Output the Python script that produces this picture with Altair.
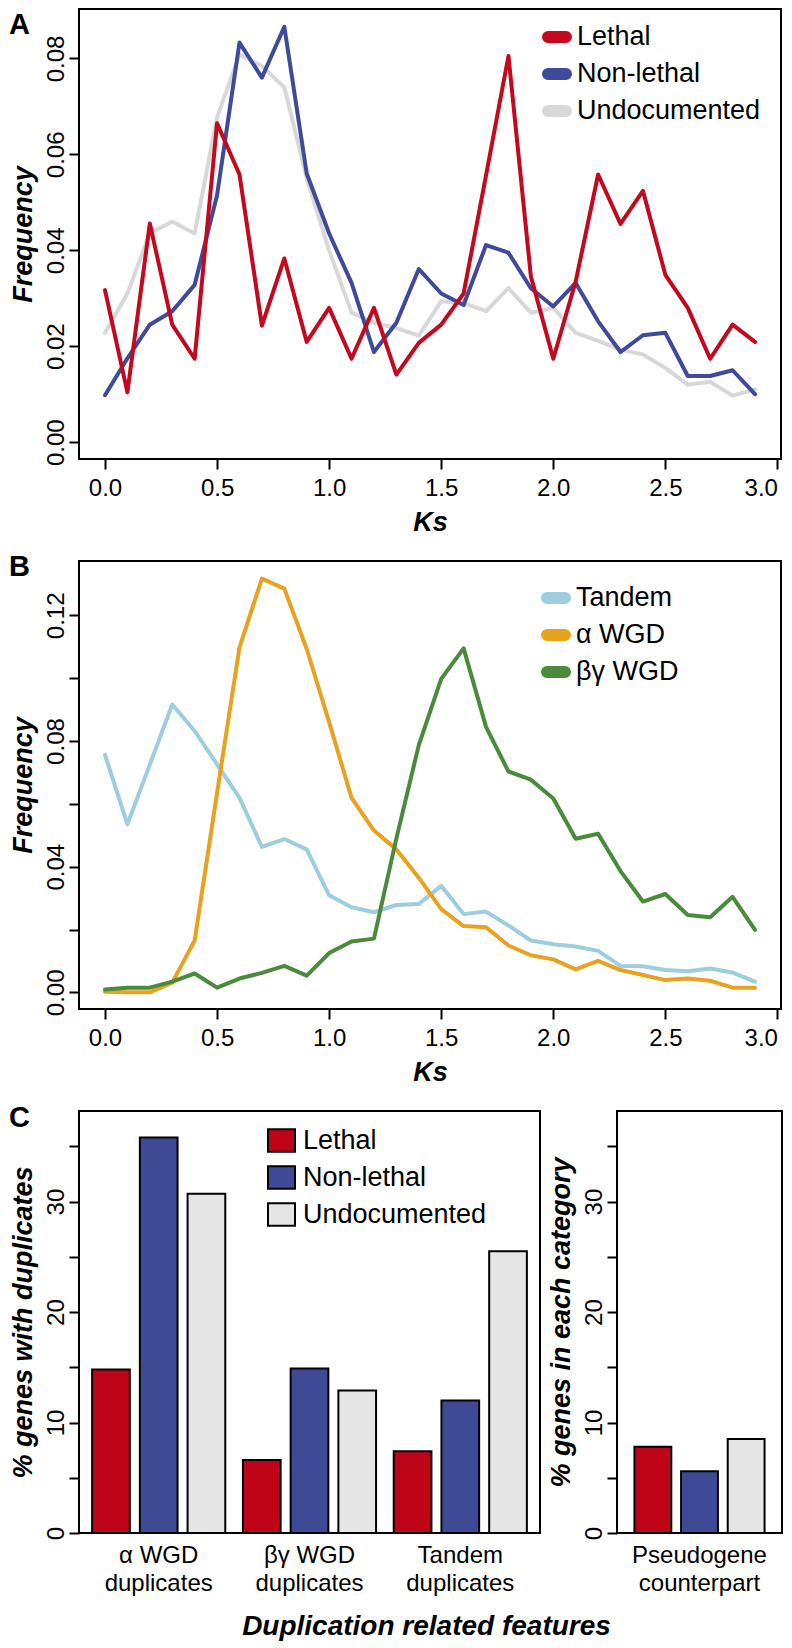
import altair as alt
import pandas as pd

# ---------------- data ----------------
ks = [0.0, 0.1, 0.2, 0.3, 0.4, 0.5, 0.6, 0.7, 0.8, 0.9,
      1.0, 1.1, 1.2, 1.3, 1.4, 1.5, 1.6, 1.7, 1.8, 1.9,
      2.0, 2.1, 2.2, 2.3, 2.4, 2.5, 2.6, 2.7, 2.8, 2.9]
ks_ticks = [0.0, 0.5, 1.0, 1.5, 2.0, 2.5, 3.0]

# Panel A
status_a = ["Lethal", "Non-lethal", "Undocumented"]
lethal = [0.0317, 0.0104, 0.0456, 0.0245, 0.0174, 0.0665, 0.0558, 0.0243, 0.0383, 0.0209,
          0.0280, 0.0174, 0.0280, 0.0141, 0.0207, 0.0245, 0.0310, 0.0556, 0.0805, 0.0346,
          0.0174, 0.0335, 0.0558, 0.0455, 0.0524, 0.0349, 0.0280, 0.0174, 0.0245, 0.0209]
nonlethal = [0.0098, 0.0175, 0.0245, 0.0273, 0.0328, 0.0515, 0.0833, 0.0760, 0.0866, 0.0560,
             0.0435, 0.0332, 0.0188, 0.0249, 0.0361, 0.0310, 0.0286, 0.0411, 0.0395, 0.0321,
             0.0283, 0.0332, 0.0252, 0.0188, 0.0223, 0.0228, 0.0138, 0.0138, 0.0150, 0.0100]
undoc = [0.0228, 0.0310, 0.0435, 0.0460, 0.0435, 0.0677, 0.0808, 0.0784, 0.0740, 0.0550,
         0.0400, 0.0270, 0.0249, 0.0238, 0.0222, 0.0294, 0.0290, 0.0273, 0.0321, 0.0270,
         0.0280, 0.0228, 0.0211, 0.0193, 0.0183, 0.0155, 0.0120, 0.0126, 0.0097, 0.0110]
freq_ticks_a = [0.00, 0.02, 0.04, 0.06, 0.08]

# Panel B
status_b = ["Tandem", "α WGD", "βγ WGD"]
tandem = [0.0756, 0.0535, 0.0725, 0.0916, 0.0832, 0.0726, 0.0619, 0.0463, 0.0488, 0.0455,
          0.0309, 0.0271, 0.0255, 0.0278, 0.0281, 0.0339, 0.0249, 0.0257, 0.0213, 0.0165,
          0.0153, 0.0146, 0.0132, 0.0084, 0.0083, 0.0071, 0.0067, 0.0076, 0.0063, 0.0034]
alpha_wgd = [0.0002, 0.0000, 0.0000, 0.0031, 0.0165, 0.0635, 0.1098, 0.1317, 0.1285, 0.1093,
             0.0860, 0.0619, 0.0515, 0.0455, 0.0365, 0.0265, 0.0211, 0.0207, 0.0149, 0.0118,
             0.0105, 0.0073, 0.0100, 0.0071, 0.0055, 0.0039, 0.0044, 0.0037, 0.0015, 0.0015]
bg_wgd = [0.0009, 0.0015, 0.0015, 0.0034, 0.0060, 0.0015, 0.0044, 0.0062, 0.0084, 0.0053,
          0.0125, 0.0162, 0.0171, 0.0490, 0.0787, 0.0998, 0.1095, 0.0845, 0.0703, 0.0677,
          0.0617, 0.0489, 0.0505, 0.0386, 0.0289, 0.0313, 0.0246, 0.0239, 0.0304, 0.0199]
freq_ticks_b = [0.00, 0.02, 0.04, 0.06, 0.08, 0.10, 0.12]

# Panel C
features = ["α WGD\nduplicates", "βγ WGD\nduplicates", "Tandem\nduplicates"]
pseudo = ["Pseudogene\ncounterpart"]
c_lethal = [14.8, 6.6, 7.4]
c_nonlethal = [35.8, 14.9, 12.0]
c_undoc = [30.7, 12.9, 25.5]
p_lethal = [7.8]
p_nonlethal = [5.6]
p_undoc = [8.5]
pct_ticks = [0, 5, 10, 15, 20, 25, 30, 35]

# ---------------- style ----------------
FONT = "Liberation Sans"
colors_a = ["#C4081D", "#3F4A9A", "#D8D8D8"]
colors_b = ["#9DCEE0", "#E8A21E", "#4A8B3B"]
colors_c = ["#C00418", "#3F4A97", "#E6E6E6"]
PILL = "M-0.9,-0.2L0.9,-0.2A0.2,0.2,0,0,1,0.9,0.2L-0.9,0.2A0.2,0.2,0,0,1,-0.9,-0.2Z"
RECT = "M-1.2,-1L1.2,-1L1.2,1L-1.2,1Z"
W = 702


def long_df(xs, series, names, xname, yname):
    rows = []
    for name, vals in zip(names, series):
        for x, v in zip(xs, vals):
            rows.append({xname: x, yname: v, "Gene class": name})
    return pd.DataFrame(rows)


def letter(ch, dy):
    return alt.Chart(pd.DataFrame({"panel": [ch]})).mark_text(
        font=FONT, fontSize=29, fontWeight="bold", align="left", baseline="top", color="black"
    ).encode(text="panel:N", x=alt.value(-70), y=alt.value(dy))


x_scale = alt.Scale(domain=[-0.116, 3.016], nice=False, zero=False)


def ks_x():
    return alt.X("Ks:Q", scale=x_scale,
                 axis=alt.Axis(values=ks_ticks, format=".1f", title="Ks", labelFlush=5,
                               labelPadding=7, titlePadding=9))


def line_legend(lx, ly):
    return alt.Legend(title=None, titleFontSize=0, titlePadding=0,
                      orient="none", legendX=lx, legendY=ly,
                      symbolType=PILL, symbolSize=400, symbolStrokeWidth=8,
                      symbolOpacity=1, labelFont=FONT, labelFontSize=27, labelLimit=400,
                      labelColor="black", labelOffset=6, rowPadding=1, padding=0)


# ---------------- panel A ----------------
dfA = long_df(ks, [lethal, nonlethal, undoc], status_a, "Ks", "Frequency")
baseA = alt.Chart(dfA).mark_line(strokeWidth=4, strokeJoin="round", strokeCap="round").encode(
    x=ks_x(),
    y=alt.Y("Frequency:Q", scale=alt.Scale(domain=[-0.0035, 0.0903], nice=False, zero=False),
            axis=alt.Axis(values=freq_ticks_a, format=".2f", title="Frequency",
                          labelAngle=270, labelAlign="center", labelBaseline="bottom",
                          labelPadding=1, titlePadding=7)),
    color=alt.Color("Gene class:N", scale=alt.Scale(domain=status_a, range=colors_a),
                    legend=line_legend(464, 14)),
)
layersA = [baseA.transform_filter(alt.datum["Gene class"] == s) for s in reversed(status_a)]
panelA = alt.layer(*layersA, letter("A", 2)).properties(width=W, height=450)

# ---------------- panel B ----------------
dfB = long_df(ks, [tandem, alpha_wgd, bg_wgd], status_b, "Ks", "Frequency")
baseB = alt.Chart(dfB).mark_line(strokeWidth=4, strokeJoin="round", strokeCap="round").encode(
    x=ks_x(),
    y=alt.Y("Frequency:Q", scale=alt.Scale(domain=[-0.0053, 0.1373], nice=False, zero=False),
            axis=alt.Axis(values=freq_ticks_b, title="Frequency",
                          labelExpr="round(datum.value*100) % 4 == 0 ? format(datum.value, '.2f') : ''",
                          labelAngle=270, labelAlign="center", labelBaseline="bottom",
                          labelPadding=1, titlePadding=7)),
    color=alt.Color("Gene class:N", scale=alt.Scale(domain=status_b, range=colors_b),
                    legend=line_legend(463, 23)),
)
layersB = [baseB.transform_filter(alt.datum["Gene class"] == s) for s in status_b]
panelB = alt.layer(*layersB, letter("B", -8)).properties(width=W, height=448)

# ---------------- panel C ----------------
dfCL = long_df(features, [c_lethal, c_nonlethal, c_undoc], status_a, "feature", "pct")
dfCR = long_df(pseudo, [p_lethal, p_nonlethal, p_undoc], status_a, "feature", "pct")

pct_scale = alt.Scale(domain=[0, 38.2], nice=False, zero=True)


def pct_axis(title):
    return alt.Axis(values=pct_ticks, title=title,
                    labelExpr="datum.value % 10 == 0 ? datum.label : ''",
                    labelAngle=270, labelAlign="center", labelBaseline="bottom",
                    labelPadding=1, titlePadding=7)


def feat_axis(title, **kw):
    return alt.Axis(title=title, labelExpr="split(datum.label, '\\n')", labelAngle=0,
                    ticks=False, labelPadding=10, labelLineHeight=28, labelFontSize=24, **kw)


colC = alt.Color("Gene class:N", sort=status_a, scale=alt.Scale(domain=status_a, range=colors_c),
                 legend=alt.Legend(title=None, titleFontSize=0, titlePadding=0,
                                   orient="none", legendX=189, legendY=16,
                                   symbolType=RECT, symbolSize=506, symbolStrokeColor="black",
                                   symbolStrokeWidth=2, symbolOpacity=1, labelFont=FONT,
                                   labelFontSize=27, labelLimit=400, labelColor="black",
                                   labelOffset=8, rowPadding=6, padding=0))

barsL = alt.Chart(dfCL).mark_bar(stroke="black", strokeWidth=2, opacity=1).encode(
    x=alt.X("feature:N", sort=features,
            scale=alt.Scale(paddingInner=0.117, paddingOuter=0.087),
            axis=feat_axis("Duplication related features", titleX=347, titleY=93,
                           titleBaseline="middle", titleAlign="center", titleFontSize=28)),
    xOffset=alt.XOffset("Gene class:N", sort=status_a,
                        scale=alt.Scale(paddingInner=0.21, paddingOuter=0)),
    y=alt.Y("pct:Q", scale=pct_scale, axis=pct_axis("% genes with duplicates")),
    color=colC,
)
panelCL = alt.layer(barsL, letter("C", -7)).properties(width=461, height=422)

barsR = alt.Chart(dfCR).mark_bar(stroke="black", strokeWidth=2, opacity=1).encode(
    x=alt.X("feature:N", sort=pseudo,
            scale=alt.Scale(paddingInner=0, paddingOuter=0.134),
            axis=feat_axis(None)),
    xOffset=alt.XOffset("Gene class:N", sort=status_a,
                        scale=alt.Scale(paddingInner=0.21, paddingOuter=0)),
    y=alt.Y("pct:Q", scale=pct_scale, axis=pct_axis("% genes in each category")),
    color=alt.Color("Gene class:N", sort=status_a,
                    scale=alt.Scale(domain=status_a, range=colors_c), legend=None),
).properties(width=165, height=422)

panelC = alt.hconcat(panelCL, barsR, spacing=77, bounds="flush").resolve_scale(
    x="independent", y="independent", color="independent", xOffset="independent")

chart = alt.vconcat(panelA, panelB, panelC, spacing=102, bounds="flush").resolve_scale(
    x="independent", y="independent", color="independent"
).properties(padding=0).configure_axis(
    labelFont=FONT, labelFontSize=24, labelColor="black",
    titleFont=FONT, titleFontSize=27, titleFontWeight="bold", titleFontStyle="italic",
    titleColor="black", tickColor="black", tickWidth=2, tickSize=10,
    domain=False, grid=False,
).configure_view(stroke="black", strokeWidth=2)

chart.save("out.html", embed_options={"renderer": "svg", "actions": False})
